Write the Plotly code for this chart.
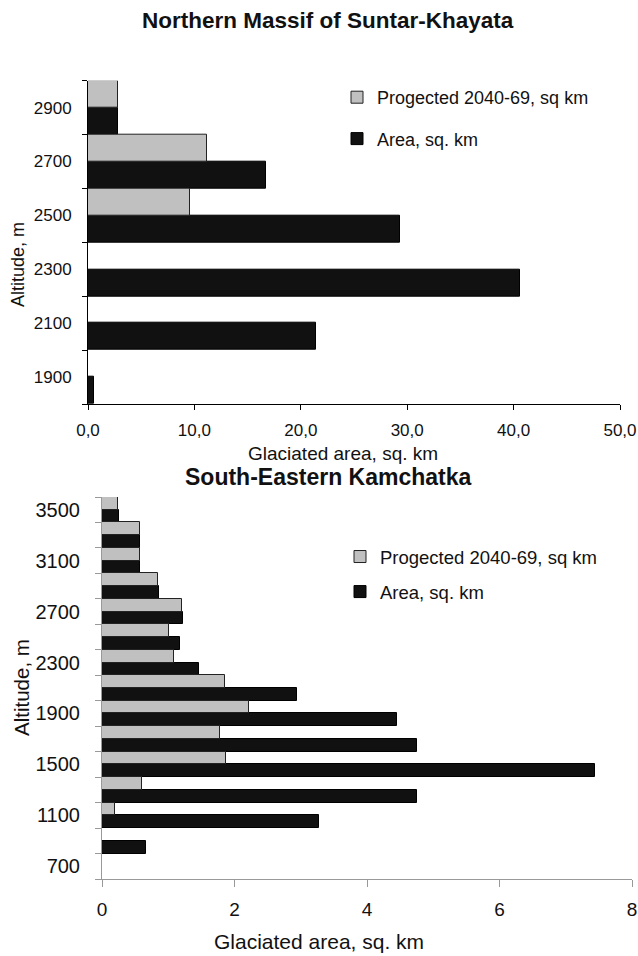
import plotly.graph_objects as go

W, H = 638, 956

# ---------------- data ----------------
top_alt = [1900, 2100, 2300, 2500, 2700, 2900]
top_area = [0.6, 21.4, 40.6, 29.3, 16.7, 2.8]
top_proj = [None, None, None, 9.6, 11.2, 2.8]
top_xticks = [0, 10, 20, 30, 40, 50]
top_xticktext = ["0,0", "10,0", "20,0", "30,0", "40,0", "50,0"]
top_bounds = [1800, 2000, 2200, 2400, 2600, 2800, 3000]

bot_alt = [700, 900, 1100, 1300, 1500, 1700, 1900, 2100, 2300, 2500, 2700, 2900, 3100, 3300, 3500]
bot_area = [None, 0.67, 3.27, 4.76, 7.44, 4.76, 4.45, 2.95, 1.46, 1.17, 1.22, 0.86, 0.58, 0.58, 0.25]
bot_proj = [None, None, 0.20, 0.60, 1.87, 1.78, 2.22, 1.85, 1.08, 1.01, 1.21, 0.85, 0.57, 0.58, 0.24]
bot_ylabels = [700, 1100, 1500, 1900, 2300, 2700, 3100, 3500]
bot_xticks = [0, 2, 4, 6, 8]
bot_bounds = [600, 800, 1000, 1200, 1400, 1600, 1800, 2000, 2200, 2400, 2600, 2800, 3000, 3200, 3400, 3600]

name_proj = "Progected 2040-69, sq km"
name_area = "Area, sq. km"

FONT = "Liberation Sans, Arial, sans-serif"
GRAY = "#c0c0c0"
BLACK = "#111111"


def px_x(x):
    return x / W


def px_y(y):
    return 1 - y / H


fig = go.Figure()

# top chart
fig.add_trace(go.Bar(y=top_alt, x=top_area, orientation="h", name=name_area,
                     marker=dict(color=BLACK, line=dict(color="#000", width=1)),
                     xaxis="x", yaxis="y", legend="legend", legendrank=2))
fig.add_trace(go.Bar(y=top_alt, x=top_proj, orientation="h", name=name_proj,
                     marker=dict(color=GRAY, line=dict(color="#222", width=1)),
                     xaxis="x", yaxis="y", legend="legend", legendrank=1))
# bottom chart
fig.add_trace(go.Bar(y=bot_alt, x=bot_area, orientation="h", name=name_area,
                     marker=dict(color=BLACK, line=dict(color="#000", width=1)),
                     xaxis="x2", yaxis="y2", legend="legend2", legendrank=2))
fig.add_trace(go.Bar(y=bot_alt, x=bot_proj, orientation="h", name=name_proj,
                     marker=dict(color=GRAY, line=dict(color="#222", width=1)),
                     xaxis="x2", yaxis="y2", legend="legend2", legendrank=1))

for i, tr in enumerate(fig.data):
    tr.legendgroup = f"g{i}"

fig.update_layout(
    width=W, height=H, autosize=False,
    margin=dict(l=0, r=0, t=0, b=0),
    paper_bgcolor="white", plot_bgcolor="white",
    font=dict(family=FONT, color="#111"),
    barmode="group", bargap=0, bargroupgap=0,
    showlegend=True,
    xaxis=dict(domain=[px_x(88), px_x(620)], range=[0, 50], anchor="y",
               tickvals=top_xticks, ticktext=top_xticktext,
               ticks="outside", ticklen=5, tickcolor="#000", tickwidth=1,
               showline=True, linecolor="#000", linewidth=1,
               showgrid=False, zeroline=False, automargin=False,
               tickfont=dict(size=17, family=FONT, color="#111"),
               ticklabelstandoff=6),
    yaxis=dict(domain=[px_y(404), px_y(80.7)], range=[1800, 3000], anchor="x",
               tickvals=top_alt, ticktext=[str(a) for a in top_alt],
               ticks="", showline=True, linecolor="#000", linewidth=1,
               minor=dict(tickvals=top_bounds, ticks="outside", ticklen=5,
                          tickcolor="#000", tickwidth=1, showgrid=False),
               showgrid=False, zeroline=False, automargin=False,
               tickfont=dict(size=17, family=FONT, color="#111"),
               ticklabelstandoff=12),
    xaxis2=dict(domain=[px_x(102), px_x(632)], range=[0, 8], anchor="y2",
                tickvals=bot_xticks, ticktext=[str(v) for v in bot_xticks],
                ticks="outside", ticklen=7, tickcolor="#999", tickwidth=1,
                showline=True, linecolor="#999", linewidth=1,
                showgrid=False, zeroline=False, automargin=False,
                tickfont=dict(size=19, family=FONT, color="#111"),
                ticklabelstandoff=6),
    yaxis2=dict(domain=[px_y(879), px_y(497)], range=[600, 3600], anchor="x2",
                tickvals=bot_ylabels, ticktext=[str(a) for a in bot_ylabels],
                ticks="", showline=True, linecolor="#999", linewidth=1,
                minor=dict(tickvals=bot_bounds, ticks="outside", ticklen=6,
                           tickcolor="#999", tickwidth=1, showgrid=False),
                showgrid=False, zeroline=False, automargin=False,
                tickfont=dict(size=20, family=FONT, color="#111"),
                ticklabelstandoff=17),
    legend=dict(x=px_x(337), y=px_y(79), xanchor="left", yanchor="top",
                bgcolor="rgba(0,0,0,0)", font=dict(size=18, family=FONT, color="#111"),
                tracegroupgap=15),
    legend2=dict(x=px_x(340), y=px_y(538), xanchor="left", yanchor="top",
                 bgcolor="rgba(0,0,0,0)", font=dict(size=18.5, family=FONT, color="#111"),
                 tracegroupgap=8),
)

annots = [
    dict(text="<b>Northern Massif of Suntar-Khayata</b>", x=px_x(328), y=px_y(20), size=22.5),
    dict(text="<b>South-Eastern Kamchatka</b>", x=px_x(328), y=px_y(477), size=23),
    dict(text="Glaciated area, sq. km", x=px_x(343), y=px_y(453), size=19),
    dict(text="Glaciated area, sq. km", x=px_x(319), y=px_y(941), size=21),
    dict(text="Altitude, m", x=px_x(18), y=px_y(265), angle=-90, size=18),
    dict(text="Altitude, m", x=px_x(21), y=px_y(688), angle=-90, size=20.5),
]
for a in annots:
    fig.add_annotation(xref="paper", yref="paper", showarrow=False,
                       xanchor="center", yanchor="middle",
                       font=dict(family=FONT, color="#111", size=a["size"]),
                       text=a["text"], x=a["x"], y=a["y"], textangle=a.get("angle", 0))

fig.write_html("out.html")
